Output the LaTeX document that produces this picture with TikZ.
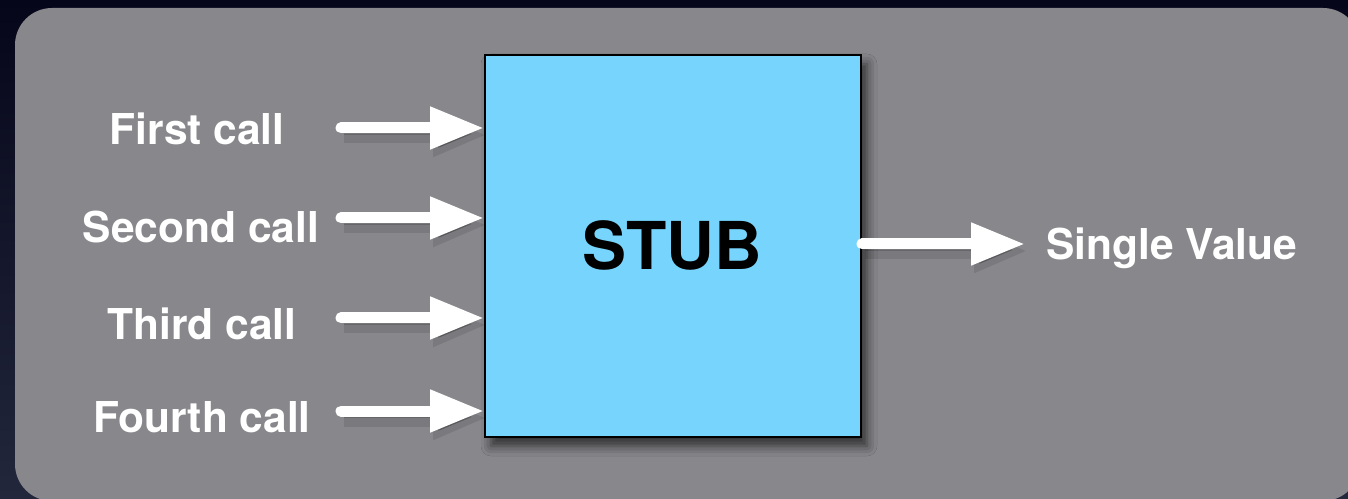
\documentclass[tikz,border=0pt]{standalone}
\usepackage{fontspec}
\setmainfont{TeX Gyre Heros}
\usetikzlibrary{arrows.meta,shadows.blur}

\definecolor{bgtop}{HTML}{06061A}
\definecolor{bgbot}{HTML}{22273C}
\definecolor{panel}{HTML}{88878C}
\definecolor{stubblue}{HTML}{77D5FD}

\tikzset{
  callarrow/.style={
    draw=white, line width=11pt, line cap=round,
    -{Triangle[length=54pt,width=40pt]},
    preaction={draw=black, opacity=0.10, line width=17pt,
      transform canvas={shift={(3pt,-7pt)}}},
    preaction={draw=black, opacity=0.16,
      transform canvas={shift={(3pt,-6pt)}}}
  },
  calllabel/.style={text=white, font=\fontsize{42.5}{46}\selectfont\bfseries,
    anchor=base, inner sep=0pt},
  stubbox/.style={draw=black, line width=2pt, fill=stubblue,
    minimum width=376pt, minimum height=382pt, inner sep=0pt,
    blur shadow={shadow xshift=6pt, shadow yshift=-9pt,
      shadow blur radius=10pt, shadow opacity=65}}
}

\begin{document}
\begin{tikzpicture}[x=1pt,y=1pt]
  \useasboundingbox (0,0) rectangle (1348,498);
  % backdrop and rounded panel
  \shade[top color=bgtop, bottom color=bgbot] (0,0) rectangle (1348,498);
  \fill[panel, rounded corners=37pt] (15,-3) rectangle (1360,490);

  % the stub
  \node[stubbox] (stub) at (673,252) {};
  \node[font=\fontsize{66}{70}\selectfont\bfseries, anchor=base, inner sep=0pt]
    (stubtext) at (672,228) {STUB};

  % calls coming in
  \node[calllabel] (l1) at (197,353) {First call};
  \node[calllabel] (l2) at (201,255) {Second call};
  \node[calllabel] (l3) at (202,158) {Third call};
  \node[calllabel] (l4) at (202,66) {Fourth call};

  \coordinate (a1) at (341,370);
  \coordinate (a2) at (341,280);
  \coordinate (a3) at (341,180);
  \coordinate (a4) at (341,87);

  \draw[callarrow] (a1) -- (stub.west |- a1);
  \draw[callarrow] (a2) -- (stub.west |- a2);
  \draw[callarrow] (a3) -- (stub.west |- a3);
  \draw[callarrow] (a4) -- (stub.west |- a4);

  % value going out
  \coordinate (o) at (1025,254);
  \draw[callarrow] (stub.east |- o) -- (o);
  \node[calllabel, anchor=base west] (out) at (1046,238) {Single Value};
\end{tikzpicture}
\end{document}
